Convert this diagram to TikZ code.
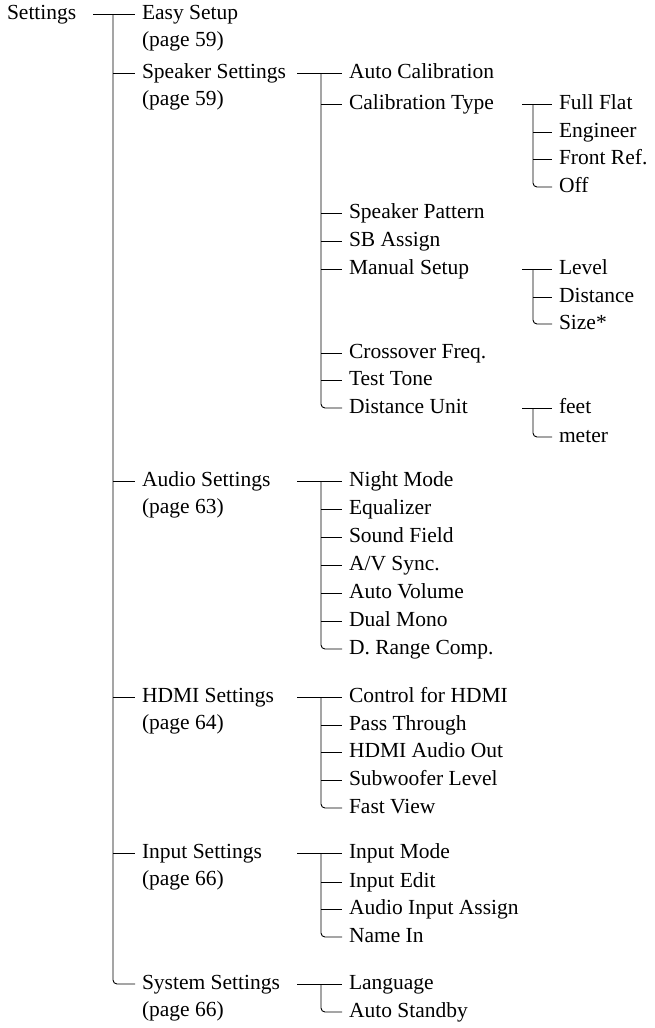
\documentclass[tikz,border=0pt]{standalone}
\usepackage{fontspec}
\setmainfont{Liberation Serif}
\begin{document}
\begin{tikzpicture}[x=1pt,y=-1pt,
  lbl/.style={anchor=west,inner sep=0pt,outer sep=0pt,font=\fontsize{21.5}{24}\selectfont,text height=14pt,text depth=4pt},
  ln/.style={line width=0.9pt,shorten >=7pt},
  rc/.style={ln,rounded corners=4pt}]
\useasboundingbox (0,0) rectangle (654,1028);
% root
\node[lbl] (set) at (7,14) {Settings};
% level 1
\node[lbl] (easy) at (142,14) {Easy Setup};
\node[lbl] (easyp) at (142,41) {(page 59)};
\node[lbl] (spk) at (142,73) {Speaker Settings};
\node[lbl] (spkp) at (142,100) {(page 59)};
\node[lbl] (aud) at (142,481) {Audio Settings};
\node[lbl] (audp) at (142,508) {(page 63)};
\node[lbl] (hdmi) at (142,697) {HDMI Settings};
\node[lbl] (hdmip) at (142,724) {(page 64)};
\node[lbl] (inp) at (142,853) {Input Settings};
\node[lbl] (inpp) at (142,880) {(page 66)};
\node[lbl] (sys) at (142,984) {System Settings};
\node[lbl] (sysp) at (142,1011) {(page 66)};
\draw[ln] (93,14) -- (easy.west);
\draw[rc] (113,14) |- (sys.west);
\foreach \n in {spk,aud,hdmi,inp} \draw[ln] (113,0 |- \n.west) -- (\n.west);
% speaker
\foreach \n/\t/\y in {ac/Auto Calibration/73,ct/Calibration Type/104,sp/Speaker Pattern/213,sb/SB Assign/241,ms/Manual Setup/269,cf/Crossover Freq./353,tt/Test Tone/380,du/Distance Unit/408}
  \node[lbl] (\n) at (349,\y) {\t};
\draw[ln] (297,73) -- (ac.west);
\draw[rc] (321,73) |- (du.west);
\foreach \n in {ct,sp,sb,ms,cf,tt} \draw[ln] (321,0 |- \n.west) -- (\n.west);
% calibration type
\foreach \n/\t/\y in {ff/Full Flat/104,en/Engineer/132,fr/Front Ref./159,of/Off/187}
  \node[lbl] (\n) at (559,\y) {\t};
\draw[ln] (522,104) -- (ff.west);
\draw[rc] (533,104) |- (of.west);
\foreach \n in {en,fr} \draw[ln] (533,0 |- \n.west) -- (\n.west);
% manual setup
\foreach \n/\t/\y in {lv/Level/269,di/Distance/297,sz/Size*/324}
  \node[lbl] (\n) at (559,\y) {\t};
\draw[ln] (522,269) -- (lv.west);
\draw[rc] (533,269) |- (sz.west);
\draw[ln] (533,0 |- di.west) -- (di.west);
% distance unit
\foreach \n/\t/\y in {ft/feet/408,mt/meter/437}
  \node[lbl] (\n) at (559,\y) {\t};
\draw[ln] (522,408) -- (ft.west);
\draw[rc] (533,408) |- (mt.west);
% audio
\foreach \n/\t/\y in {a1/Night Mode/481,a2/Equalizer/509,a3/Sound Field/537,a4/A\slash V Sync./565,a5/Auto Volume/593,a6/Dual Mono/621,a7/D. Range Comp./649}
  \node[lbl] (\n) at (349,\y) {\t};
\draw[ln] (297,481) -- (a1.west);
\draw[rc] (321,481) |- (a7.west);
\foreach \n in {a2,a3,a4,a5,a6} \draw[ln] (321,0 |- \n.west) -- (\n.west);
% hdmi
\foreach \n/\t/\y in {h1/Control for HDMI/697,h2/Pass Through/725,h3/HDMI Audio Out/752,h4/Subwoofer Level/780,h5/Fast View/808}
  \node[lbl] (\n) at (349,\y) {\t};
\draw[ln] (297,697) -- (h1.west);
\draw[rc] (321,697) |- (h5.west);
\foreach \n in {h2,h3,h4} \draw[ln] (321,0 |- \n.west) -- (\n.west);
% input
\foreach \n/\t/\y in {i1/Input Mode/853,i2/Input Edit/882,i3/Audio Input Assign/909,i4/Name In/937}
  \node[lbl] (\n) at (349,\y) {\t};
\draw[ln] (297,853) -- (i1.west);
\draw[rc] (321,853) |- (i4.west);
\foreach \n in {i2,i3} \draw[ln] (321,0 |- \n.west) -- (\n.west);
% system
\foreach \n/\t/\y in {s1/Language/984,s2/Auto Standby/1012}
  \node[lbl] (\n) at (349,\y) {\t};
\draw[ln] (297,984) -- (s1.west);
\draw[rc] (321,984) |- (s2.west);
\end{tikzpicture}
\end{document}
